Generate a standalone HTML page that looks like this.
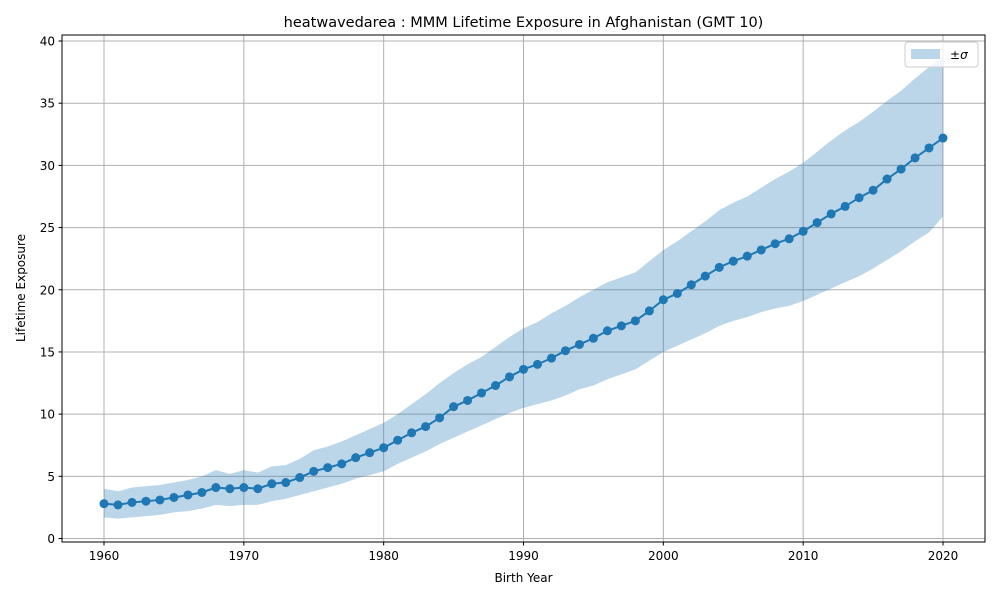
<!DOCTYPE html>
<html><head><meta charset="utf-8"><style>
body{margin:0;background:#fff;font-family:"Liberation Sans","DejaVu Sans",sans-serif;}
svg text{font-family:"DejaVu Sans","Liberation Sans",sans-serif;}
</style></head><body>
<svg id="chart" width="1000" height="600" xmlns="http://www.w3.org/2000/svg">
<rect width="1000" height="600" fill="#fff"/>
<g id="grid"></g><g id="band"></g><g id="series"></g>
<rect x="62" y="35" width="923" height="507" fill="none" stroke="#000" stroke-width="1"/>
<g id="axes"></g>
<text x="523.5" y="27" font-size="14.5" text-anchor="middle">heatwavedarea : MMM Lifetime Exposure in Afghanistan (GMT 10)</text>
<text x="523.5" y="582" font-size="12" text-anchor="middle">Birth Year</text>
<text x="25" y="288" font-size="12" text-anchor="middle" transform="rotate(-90 25 288)">Lifetime Exposure</text>
<g>
<rect x="905" y="42" width="73" height="25" rx="3" fill="#fff" fill-opacity="0.8" stroke="#ccc"/>
<rect x="911" y="49" width="29" height="10" fill="#1f77b4" fill-opacity="0.3"/>
<text x="950" y="59" font-size="12">±<tspan font-style="italic">σ</tspan></text>
</g>
</svg>
<script>
const years=[];for(let y=1960;y<=2020;y++)years.push(y);
const meanVals=[2.8,2.7,2.9,3.0,3.1,3.3,3.5,3.7,4.1,4.0,4.1,4.0,4.4,4.5,4.9,5.4,5.7,6.0,6.5,6.9,7.3,7.9,8.5,9.0,9.7,10.6,11.1,11.7,12.3,13.0,13.6,14.0,14.5,15.1,15.6,16.1,16.7,17.1,17.5,18.3,19.2,19.7,20.4,21.1,21.8,22.3,22.7,23.2,23.7,24.1,24.7,25.4,26.1,26.7,27.4,28.0,28.9,29.7,30.6,31.4,32.2];
const upperVals=[4.0,3.8,4.1,4.2,4.3,4.5,4.7,5.0,5.5,5.2,5.5,5.3,5.8,5.9,6.4,7.1,7.4,7.8,8.3,8.8,9.3,10.0,10.8,11.6,12.5,13.3,14.0,14.6,15.4,16.2,16.9,17.4,18.1,18.7,19.4,20.0,20.6,21.0,21.4,22.3,23.2,23.9,24.7,25.5,26.4,27.0,27.5,28.2,28.9,29.5,30.2,31.1,32.0,32.8,33.5,34.3,35.2,36.0,37.0,37.9,38.7];
const lowerVals=[1.7,1.6,1.7,1.8,1.9,2.1,2.2,2.4,2.7,2.6,2.7,2.7,3.0,3.2,3.5,3.8,4.1,4.4,4.8,5.1,5.4,6.0,6.5,7.0,7.6,8.1,8.6,9.1,9.6,10.1,10.5,10.8,11.1,11.5,12.0,12.3,12.8,13.2,13.6,14.3,15.0,15.5,16.0,16.5,17.1,17.5,17.8,18.2,18.5,18.7,19.1,19.6,20.1,20.6,21.1,21.7,22.4,23.1,23.9,24.6,25.9];
const xTicks=[1960,1970,1980,1990,2000,2010,2020];
const yTicks=[0,5,10,15,20,25,30,35,40];
const X=v=>104+(v-1960)*(943-104)/60;
const Y=v=>538.5-v*(538.5-41)/40;
const NS="http://www.w3.org/2000/svg";
function mk(t,a,p){const e=document.createElementNS(NS,t);for(const k in a)e.setAttribute(k,a[k]);p.appendChild(e);return e;}
const grid=document.getElementById('grid'),axes=document.getElementById('axes');
xTicks.forEach(t=>{const x=X(t);
 const g=mk('line',{x1:x,x2:x,y1:35,y2:542,stroke:'#b0b0b0','stroke-width':1},grid);
 
 
 mk('line',{x1:x,x2:x,y1:542,y2:545.5,stroke:'#000'},axes);
 const tx=mk('text',{x:x,y:560,'font-size':12,'text-anchor':'middle'},axes);tx.textContent=t;
 
 
});
yTicks.forEach(t=>{const y=Y(t);
 const g=mk('line',{x1:62,x2:985,y1:y,y2:y,stroke:'#b0b0b0','stroke-width':1},grid);
 
 
 mk('line',{x1:58.5,x2:62,y1:y,y2:y,stroke:'#000'},axes);
 const tx=mk('text',{x:55,y:y+4.5,'font-size':12,'text-anchor':'end'},axes);tx.textContent=t;
 
 
});
let d='';years.forEach((y,i)=>{d+=(i?'L':'M')+X(y)+','+Y(upperVals[i]);});
for(let i=years.length-1;i>=0;i--)d+='L'+X(years[i])+','+Y(lowerVals[i]);
const band=mk('path',{d:d+'Z',fill:'#1f77b4','fill-opacity':0.3},document.getElementById('band'));


const s=document.getElementById('series');
const line=mk('polyline',{points:years.map((y,i)=>X(y)+','+Y(meanVals[i])).join(' '),fill:'none',stroke:'#1f77b4','stroke-width':2},s);


years.forEach((y,i)=>{const c=mk('circle',{cx:X(y),cy:Y(meanVals[i]),r:4.5,fill:'#1f77b4'},s);
 
 
});
</script>
</body></html>
